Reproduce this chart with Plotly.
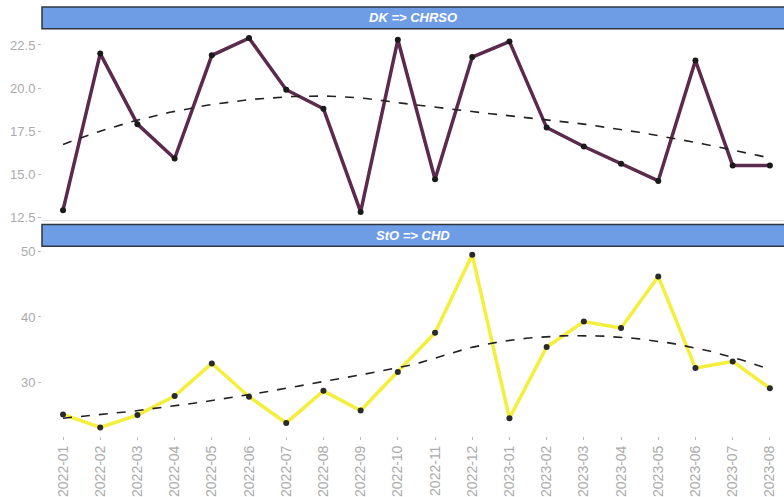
import numpy as np
import plotly.graph_objects as go

# Monthly observations for two routes
months = ["2022-01", "2022-02", "2022-03", "2022-04", "2022-05", "2022-06",
          "2022-07", "2022-08", "2022-09", "2022-10", "2022-11", "2022-12",
          "2023-01", "2023-02", "2023-03", "2023-04", "2023-05", "2023-06",
          "2023-07", "2023-08"]
dk_chrso = [12.9, 22.0, 17.9, 15.9, 21.9, 22.9, 19.9, 18.8, 12.8, 22.8,
            14.7, 21.8, 22.7, 17.7, 16.6, 15.6, 14.6, 21.6, 15.5, 15.5]
sto_chd = [25.1, 23.1, 25.0, 27.9, 32.9, 27.8, 23.8, 28.7, 25.7, 31.6,
           37.6, 49.5, 24.5, 35.4, 39.3, 38.3, 46.2, 32.2, 33.2, 29.1]

strip_titles = ["DK =&gt; CHRSO", "StO =&gt; CHD"]
top_ticks = [12.5, 15.0, 17.5, 20.0, 22.5]
bottom_ticks = [30, 40, 50]

W, H = 784, 497
M_L, M_B = 42, 60
PLOT_H = H - M_B
FONT = "Liberation Sans, Arial, sans-serif"


def py(p):
    """Pixel row (from top) -> paper fraction."""
    return (PLOT_H - p) / PLOT_H


def loess(x, y, xs, span=1.0):
    """Local quadratic regression with tricube weights."""
    x = np.asarray(x, float)
    y = np.asarray(y, float)
    n = len(x)
    q = max(3, int(np.floor(span * n)))
    out = []
    for x0 in xs:
        d = np.abs(x - x0)
        h = np.sort(d)[q - 1]
        w = np.clip(1 - (d / h) ** 3, 0, None) ** 3
        X = np.vstack([np.ones(n), x - x0, (x - x0) ** 2]).T
        Wm = np.diag(w)
        beta = np.linalg.solve(X.T @ Wm @ X, X.T @ Wm @ y)
        out.append(beta[0])
    return np.array(out)


xi = np.arange(len(months))
xs = np.linspace(0, len(months) - 1, 120)

fig = go.Figure()

series = [
    (dk_chrso, "#5b2a4c", "#1a1a1a", "x", "y"),
    (sto_chd, "#f4ee3c", "#2a2a2a", "x2", "y2"),
]
for vals, line_col, mk_col, xa, ya in series:
    fig.add_trace(go.Scatter(
        x=xi, y=vals, mode="lines", xaxis=xa, yaxis=ya,
        line=dict(color=line_col, width=3.5), showlegend=False))
    fig.add_trace(go.Scatter(
        x=xi, y=vals, mode="markers", xaxis=xa, yaxis=ya,
        marker=dict(color=mk_col, size=6), showlegend=False))
    fig.add_trace(go.Scatter(
        x=xs, y=loess(xi, vals, xs), mode="lines", xaxis=xa, yaxis=ya,
        line=dict(color="#222222", width=1.6, dash="dash"), showlegend=False))

# panel pixel extents
top_panel = (27, 220)
bot_panel = (246, 437)
top_strip = (5, 27)
bot_strip = (224, 246)

x_range = [-0.565, 19.38]

ytick_font = dict(family=FONT, size=13, color="#ababab")
xtick_font = dict(family=FONT, size=14, color="#ababab")

common_x = dict(range=x_range, showgrid=False, zeroline=False, showline=False,
                tickvals=list(xi), ticktext=months, ticks="outside",
                ticklen=3, tickcolor="#bbbbbb", tickfont=xtick_font)
fig.update_layout(
    xaxis=dict(common_x, domain=[0, 1], anchor="y", showticklabels=False, ticks=""),
    xaxis2=dict(common_x, domain=[0, 1], anchor="y2", tickangle=-90),
    yaxis=dict(domain=[py(top_panel[1]), py(top_panel[0])], anchor="x",
               range=[12.3, 23.44], tickvals=top_ticks,
               ticktext=[f"{v:.1f}" for v in top_ticks],
               showgrid=False, zeroline=False, ticks="outside", ticklen=3,
               tickcolor="#bbbbbb", tickfont=ytick_font),
    yaxis2=dict(domain=[py(bot_panel[1]), py(bot_panel[0])], anchor="x2",
                range=[21.8, 50.8], tickvals=bottom_ticks,
                showgrid=False, zeroline=False, ticks="outside", ticklen=3,
                tickcolor="#bbbbbb", tickfont=ytick_font),
    width=W, height=H,
    margin=dict(l=M_L, r=0, t=0, b=M_B),
    paper_bgcolor="white", plot_bgcolor="white",
)

# facet strips
for (s0, s1), title in zip([top_strip, bot_strip], strip_titles):
    fig.add_shape(type="rect", xref="paper", yref="paper",
                  x0=0, x1=1.02, y0=py(s1), y1=py(s0),
                  fillcolor="#6e9de6", line=dict(color="#2e3640", width=1.5))
    fig.add_annotation(xref="paper", yref="paper", x=0.5, y=(py(s0) + py(s1)) / 2,
                       xanchor="center", yanchor="middle",
                       text=f"<b><i>{title}</i></b>", showarrow=False,
                       font=dict(family=FONT, size=13, color="white"))

# faint bottom border of the upper panel
fig.add_shape(type="line", xref="paper", yref="paper", x0=0, x1=1,
              y0=py(top_panel[1]), y1=py(top_panel[1]),
              line=dict(color="#dddddd", width=1))

fig.write_html("out.html")
